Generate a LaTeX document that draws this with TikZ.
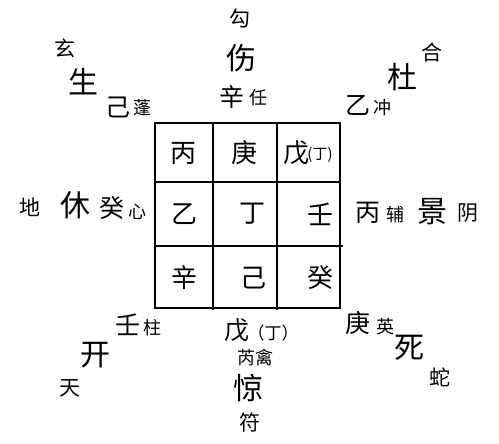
\documentclass[tikz,border=0pt]{standalone}
\usepackage{fontspec}
\newfontfamily\cjk{Noto Sans CJK SC}
\begin{document}
\begin{tikzpicture}[x=1pt,y=-1pt,
  every node/.style={inner sep=0pt,outer sep=0pt,anchor=center},
  cell/.style={font=\cjk\fontsize{26}{26}\selectfont},
  small/.style={font=\cjk\fontsize{15}{15}\selectfont},
  door/.style={font=\cjk\fontsize{30}{30}\selectfont},
  stem/.style={font=\cjk\fontsize{25}{25}\selectfont},
  star/.style={font=\cjk\fontsize{18}{18}\selectfont},
  god/.style={font=\cjk\fontsize{21}{21}\selectfont},
  grid/.style={line width=2pt,black}]
\useasboundingbox (0,0) rectangle (499,444);
% grid
\draw[grid] (155,123) rectangle (340,308);
\draw[grid] (213,123) -- (213,310);
\draw[grid] (277,123) -- (277,310);
\draw[grid] (155,182) -- (340,182);
\draw[grid] (155,246) -- (343,246);
% cells
\node[cell] (c11) at (183,153) {丙};
\node[cell] (c12) at (244,153) {庚};
\node[cell] (c13) at (296,153) {戊};
\node[small] (c13b) at (320,155) {(丁)};
\node[cell] (c21) at (184,214) {乙};
\node[cell] (c22) at (252,214) {丁};
\node[cell] (c23) at (320,214) {壬};
\node[cell] (c31) at (184,278) {辛};
\node[cell] (c32) at (253,278) {己};
\node[cell] (c33) at (320,278) {癸};
% north
\node[god] (gN) at (240,18) {勾};
\node[door] (dN) at (241,58) {伤};
\node[stem] (sN) at (232,97) {辛};
\node[star] (tN) at (258,98) {任};
% north-west
\node[god] (gNW) at (65,48) {玄};
\node[door] (dNW) at (83,82) {生};
\node[stem] (sNW) at (118,107) {己};
\node[star] (tNW) at (142,108) {蓬};
% north-east
\node[god] (gNE) at (432,52) {合};
\node[door] (dNE) at (402,77) {杜};
\node[stem] (sNE) at (358,105) {乙};
\node[star] (tNE) at (382,108) {冲};
% west
\node[god] (gW) at (30,207) {地};
\node[door] (dW) at (75,205) {休};
\node[stem] (sW) at (112,208) {癸};
\node[star] (tW) at (137,212) {心};
% east
\node[stem] (sE) at (368,213) {丙};
\node[star] (tE) at (395,215) {辅};
\node[door] (dE) at (432,212) {景};
\node[god] (gE) at (468,213) {阴};
% south-west
\node[stem] (sSW) at (128,325) {壬};
\node[star] (tSW) at (152,328) {柱};
\node[door] (dSW) at (95,355) {开};
\node[god] (gSW) at (70,388) {天};
% south
\node[stem] (sS) at (237,330) {戊};
\node[font=\cjk\fontsize{17}{17}\selectfont] (sSb) at (273,333) {（丁）};
\node[star] (tS) at (255,358) {芮禽};
\node[door] (dS) at (248,388) {惊};
\node[god] (gS) at (250,422) {符};
% south-east
\node[stem] (sSE) at (358,323) {庚};
\node[star] (tSE) at (385,327) {英};
\node[door] (dSE) at (409,348) {死};
\node[god] (gSE) at (440,377) {蛇};
\end{tikzpicture}
\end{document}
